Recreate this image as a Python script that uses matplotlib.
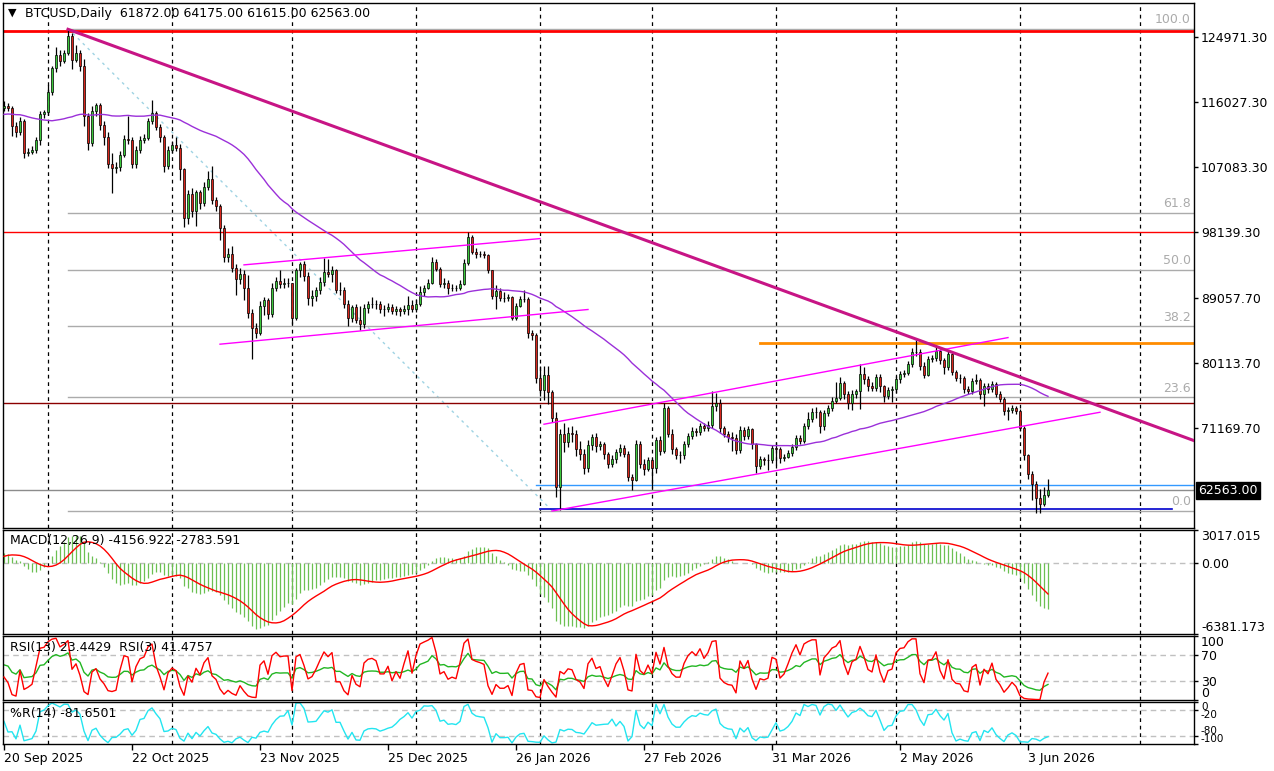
import numpy as np
import pandas as pd
import matplotlib
matplotlib.use("Agg")
import matplotlib.pyplot as plt
import matplotlib.dates as mdates
from matplotlib.transforms import blended_transform_factory

plt.rcParams['font.family'] = ['DejaVu Sans']

W, H = 1274, 771

# ---- data (prices in thousands of USD) ----
start_date = "2025-09-20"

# closes before the first visible bar (1 Aug .. 19 Sep 2025), only used to warm up the indicators
prior_closes_k = [
    113.3, 112.5, 114.2, 115.0, 114.1, 115.0, 117.5, 116.7, 116.5, 119.3,
    118.7, 120.2, 123.3, 118.4, 117.4, 117.5, 117.4, 116.2, 112.9, 114.3,
    112.5, 116.9, 115.4, 113.5, 110.1, 111.8, 111.2, 112.6, 108.4, 108.8,
    108.2, 109.2, 111.2, 111.7, 110.7, 110.7, 110.2, 111.1, 112.0, 111.5,
    113.9, 115.5, 116.1, 115.9, 115.4, 115.4, 116.8, 116.5, 117.1, 115.7]

opens_k = [
    115.3, 115.6, 115.2, 112.8, 111.9, 113.5, 109.0, 109.2, 109.4, 110.8,
    114.4, 114.7, 117.5, 120.7, 122.5, 121.8, 122.8, 125.2, 121.9, 122.8,
    121.1, 114.2, 110.4, 114.9, 115.7, 112.9, 111.2, 107.6, 107.0, 107.1,
    108.8, 111.0, 110.9, 107.6, 109.5, 110.8, 111.1, 113.4, 114.5, 112.7,
    111.2, 107.3, 109.4, 110.1, 109.8, 106.8, 100.1, 103.4, 101.1, 103.7,
    102.2, 104.4, 105.5, 102.6, 101.8, 98.7, 94.7, 95.1, 93.2, 91.7,
    92.4, 90.5, 87.0, 84.9, 84.3, 88.0, 88.8, 86.9, 90.4, 91.4,
    91.0, 91.1, 91.1, 86.3, 92.9, 93.8, 92.1, 89.1, 89.4, 90.2,
    91.3, 92.7, 92.4, 92.9, 90.2, 90.2, 88.3, 86.3, 87.8, 86.1,
    85.5, 87.7, 88.2, 88.3, 88.2, 87.6, 87.6, 87.8, 87.3, 87.5,
    87.3, 87.6, 88.1, 87.5, 88.3, 89.9, 90.5, 91.2, 94.0, 93.1,
    91.0, 91.2, 90.4, 90.5, 90.4, 91.0, 93.9, 97.5, 95.4, 95.2,
    95.1, 95.0, 92.9, 89.3, 90.1, 89.1, 89.1, 89.2, 86.3, 88.0,
    88.9, 89.0, 84.3, 84.0, 78.1, 76.4, 78.5, 76.1, 72.5, 63.0,
    70.3, 69.2, 70.5, 70.3, 68.2, 67.6, 65.7, 68.8, 69.9, 68.7,
    68.9, 67.6, 66.2, 66.9, 67.8, 68.4, 67.6, 64.4, 64.0, 68.9,
    66.2, 65.5, 66.7, 65.6, 69.5, 68.0, 73.9, 70.3, 68.3, 67.4,
    67.4, 68.9, 70.1, 70.8, 70.6, 71.5, 71.1, 71.6, 74.2, 74.6,
    71.2, 70.3, 69.9, 69.8, 68.1, 70.9, 70.1, 71.0, 68.9, 65.9,
    66.9, 66.7, 66.8, 68.4, 68.3, 67.0, 67.2, 67.7, 68.5, 69.8,
    69.4, 71.4, 72.4, 73.4, 73.4, 71.4, 73.2, 73.9, 74.9, 75.3,
    77.4, 75.8, 74.6, 75.9, 76.2, 78.6, 77.9, 76.9, 76.7, 78.2,
    76.9, 75.6, 76.4, 76.5, 77.9, 78.6, 78.7, 80.0, 81.7, 81.7,
    79.7, 78.5, 80.7, 80.8, 81.8, 80.5, 79.6, 81.3, 78.9, 78.1,
    78.0, 76.6, 76.3, 77.6, 77.8, 75.8, 76.9, 76.5, 77.2, 75.9,
    75.2, 73.5, 73.7, 73.9, 73.5, 71.2, 67.4, 64.8, 63.4, 61.5,
    60.7, 61.872]

highs_k = [
    116.2, 116.0, 115.5, 113.3, 114.0, 113.8, 109.8, 110.0, 111.2, 114.8,
    115.0, 118.4, 121.0, 123.6, 123.2, 123.3, 126.2, 125.6, 123.9, 123.2,
    122.0, 114.5, 115.5, 116.0, 116.0, 113.4, 112.0, 109.0, 107.8, 109.3,
    111.6, 114.1, 111.3, 110.0, 111.4, 111.7, 113.9, 116.3, 114.8, 113.0,
    111.5, 110.0, 110.7, 111.2, 110.3, 107.0, 104.0, 104.2, 104.0, 104.0,
    105.0, 106.6, 107.3, 103.0, 102.0, 99.2, 96.0, 96.3, 93.8, 93.2,
    93.0, 92.3, 87.6, 85.6, 88.6, 89.2, 89.1, 91.2, 92.0, 93.0,
    91.8, 91.8, 91.2, 93.2, 94.1, 94.2, 92.6, 90.2, 90.6, 91.9,
    94.6, 94.4, 93.5, 93.1, 91.3, 90.6, 88.8, 88.1, 88.3, 88.0,
    88.2, 88.6, 89.2, 88.8, 88.6, 88.1, 88.4, 88.2, 88.0, 87.9,
    88.1, 89.3, 88.8, 88.9, 90.7, 90.9, 91.7, 94.7, 94.4, 93.4,
    91.8, 91.6, 91.0, 90.9, 91.5, 94.4, 98.1, 97.8, 95.9, 95.6,
    95.6, 95.2, 93.0, 90.9, 90.5, 89.9, 89.6, 89.4, 88.4, 89.3,
    90.2, 89.2, 84.6, 84.3, 79.7, 79.7, 79.7, 76.4, 73.3, 71.0,
    71.8, 71.3, 71.5, 70.9, 69.3, 68.2, 69.5, 70.4, 70.5, 69.4,
    69.2, 67.9, 67.4, 68.2, 68.9, 68.8, 68.0, 64.8, 69.5, 69.3,
    66.9, 67.2, 67.0, 69.9, 70.1, 74.6, 74.2, 71.0, 68.6, 68.0,
    69.3, 70.5, 71.3, 71.1, 71.9, 71.8, 72.1, 76.3, 76.0, 75.1,
    71.5, 70.8, 70.6, 70.3, 71.4, 71.3, 71.5, 71.2, 69.1, 67.3,
    67.2, 67.6, 68.8, 69.2, 68.6, 67.6, 68.1, 68.9, 70.2, 70.2,
    71.8, 73.3, 73.9, 74.1, 73.7, 73.7, 74.3, 75.5, 77.5, 78.2,
    77.7, 76.2, 76.4, 76.6, 80.0, 79.6, 78.3, 77.5, 78.6, 78.6,
    77.1, 76.8, 76.9, 78.3, 79.0, 79.1, 80.4, 82.2, 83.3, 82.0,
    80.3, 81.1, 81.2, 82.6, 82.0, 80.8, 81.8, 81.6, 79.2, 78.6,
    78.3, 77.0, 78.0, 78.6, 78.1, 77.3, 77.4, 77.6, 77.5, 76.2,
    75.5, 74.1, 74.3, 74.2, 73.8, 71.5, 67.6, 65.3, 63.8, 62.8,
    63.0, 64.175]

lows_k = [
    114.9, 114.8, 111.4, 111.3, 111.6, 108.4, 108.6, 108.9, 109.0, 110.2,
    113.9, 114.3, 117.0, 120.2, 121.0, 121.5, 122.6, 120.6, 121.6, 120.4,
    112.8, 109.4, 110.0, 114.1, 112.2, 110.2, 107.0, 103.5, 106.3, 106.6,
    108.5, 110.3, 107.0, 107.0, 109.1, 110.4, 110.9, 113.0, 112.2, 110.6,
    106.4, 106.8, 109.0, 109.3, 105.3, 98.9, 99.3, 100.3, 99.0, 101.3,
    101.7, 104.0, 102.0, 101.0, 97.0, 94.0, 94.0, 92.7, 89.5, 91.0,
    88.8, 86.3, 80.6, 83.5, 84.0, 86.8, 86.2, 86.5, 90.0, 90.5,
    90.4, 90.6, 85.5, 86.0, 92.0, 91.4, 88.1, 88.0, 88.6, 89.6,
    90.7, 91.9, 91.3, 89.8, 89.5, 87.7, 85.2, 85.7, 85.6, 84.6,
    84.9, 87.0, 87.7, 87.6, 87.0, 86.6, 87.1, 86.9, 86.8, 86.6,
    86.9, 86.7, 87.2, 87.2, 88.0, 89.4, 90.3, 91.0, 92.8, 90.6,
    90.5, 89.6, 90.1, 90.0, 90.2, 90.8, 93.6, 95.1, 94.6, 94.7,
    94.6, 92.5, 88.9, 87.5, 88.7, 88.5, 88.6, 86.0, 86.1, 87.8,
    88.5, 83.5, 83.3, 77.3, 75.6, 75.0, 74.5, 72.0, 61.7, 59.8,
    67.9, 68.6, 69.2, 67.3, 66.8, 64.8, 65.1, 68.1, 67.8, 68.1,
    66.9, 65.7, 65.8, 66.4, 67.3, 67.2, 63.9, 62.6, 63.8, 65.7,
    64.7, 65.2, 62.9, 65.0, 67.5, 67.7, 69.9, 67.6, 66.9, 66.3,
    66.9, 68.5, 69.6, 70.1, 70.2, 70.7, 70.8, 71.2, 73.5, 70.5,
    69.9, 69.2, 68.0, 67.6, 67.7, 69.5, 69.7, 68.3, 65.0, 65.5,
    66.1, 65.4, 66.4, 66.0, 66.4, 66.6, 67.0, 67.3, 68.1, 69.0,
    69.1, 71.0, 72.0, 72.5, 70.5, 70.9, 72.8, 73.5, 74.6, 75.0,
    75.2, 73.8, 73.7, 75.3, 73.8, 77.2, 76.2, 76.2, 76.3, 76.1,
    74.7, 75.2, 74.7, 76.0, 77.3, 78.2, 78.4, 79.6, 81.1, 79.2,
    78.1, 78.3, 80.3, 80.4, 80.0, 78.6, 79.2, 78.4, 77.7, 77.3,
    76.0, 75.8, 75.9, 77.2, 75.2, 74.2, 76.0, 76.1, 75.4, 74.7,
    73.0, 72.2, 73.2, 73.1, 70.8, 66.8, 64.2, 61.2, 59.4, 59.5,
    60.4, 61.615]

closes_k = [
    115.6, 115.2, 112.8, 111.9, 113.5, 109.0, 109.2, 109.4, 110.8, 114.4,
    114.7, 117.5, 120.7, 122.5, 121.8, 122.8, 125.2, 121.9, 122.8, 121.1,
    114.2, 110.4, 114.9, 115.7, 112.9, 111.2, 107.6, 107.0, 107.1, 108.8,
    111.0, 110.9, 107.6, 109.5, 110.8, 111.1, 113.4, 114.5, 112.7, 111.2,
    107.3, 109.4, 110.1, 109.8, 106.8, 100.1, 103.4, 101.1, 103.7, 102.2,
    104.4, 105.5, 102.6, 101.8, 98.7, 94.7, 95.1, 93.2, 91.7, 92.4,
    90.5, 87.0, 84.9, 84.3, 88.0, 88.8, 86.9, 90.4, 91.4, 91.0,
    91.1, 91.1, 86.3, 92.9, 93.8, 92.1, 89.1, 89.4, 90.2, 91.3,
    92.7, 92.4, 92.9, 90.2, 90.2, 88.3, 86.3, 87.8, 86.1, 85.5,
    87.7, 88.2, 88.3, 88.2, 87.6, 87.6, 87.8, 87.3, 87.5, 87.3,
    87.6, 88.1, 87.5, 88.3, 89.9, 90.5, 91.2, 94.0, 93.1, 91.0,
    91.2, 90.4, 90.5, 90.4, 91.0, 93.9, 97.5, 95.4, 95.2, 95.1,
    95.0, 92.9, 89.3, 90.1, 89.1, 89.1, 89.2, 86.3, 88.0, 88.9,
    89.0, 84.3, 84.0, 78.1, 76.4, 78.5, 76.1, 72.5, 63.0, 70.3,
    69.2, 70.5, 70.3, 68.2, 67.6, 65.7, 68.8, 69.9, 68.7, 68.9,
    67.6, 66.2, 66.9, 67.8, 68.4, 67.6, 64.4, 64.0, 68.9, 66.2,
    65.5, 66.7, 65.6, 69.5, 68.0, 73.9, 70.3, 68.3, 67.4, 67.4,
    68.9, 70.1, 70.8, 70.6, 71.5, 71.1, 71.6, 74.2, 74.6, 71.2,
    70.3, 69.9, 69.8, 68.1, 70.9, 70.1, 71.0, 68.9, 65.9, 66.9,
    66.7, 66.8, 68.4, 68.3, 67.0, 67.2, 67.7, 68.5, 69.8, 69.4,
    71.4, 72.4, 73.4, 73.4, 71.4, 73.2, 73.9, 74.9, 75.3, 77.4,
    75.8, 74.6, 75.9, 76.2, 78.6, 77.9, 76.9, 76.7, 78.2, 76.9,
    75.6, 76.4, 76.5, 77.9, 78.6, 78.7, 80.0, 81.7, 81.7, 79.7,
    78.5, 80.7, 80.8, 81.8, 80.5, 79.6, 81.3, 78.9, 78.1, 78.0,
    76.6, 76.3, 77.6, 77.8, 75.8, 76.9, 76.5, 77.2, 75.9, 75.2,
    73.5, 73.7, 73.9, 73.5, 71.2, 67.4, 64.8, 63.4, 61.5, 60.7,
    61.872, 62.563]

price_ticks = [124971.30, 116027.30, 107083.30, 98139.30, 89057.70, 80113.70, 71169.70]
date_labels = ["20 Sep 2025", "22 Oct 2025", "23 Nov 2025", "25 Dec 2025", "26 Jan 2026",
               "27 Feb 2026", "31 Mar 2026", "2 May 2026", "3 Jun 2026"]
header_text = "BTCUSD,Daily  61872.00 64175.00 61615.00 62563.00"
macd_text = "MACD(12,26,9) -4156.922 -2783.591"
rsi_text = "RSI(13) 23.4429  RSI(3) 41.4757"
wpr_text = "%R(14) -81.6501"
macd_range = [-6381.173, 3017.015]
macd_tick_labels = ["3017.015", "0.00", "-6381.173"]
wpr_ticks = [0, -20, -80, -100]

# hand drawn objects on the chart: (date, price)
fib_dates = ["2025-10-06", "2026-02-04"]
fib_prices = [126210, 59790]
fib_levels = [100.0, 61.8, 50.0, 38.2, 23.6, 0.0]
trend_dates = ["2025-10-06", "2026-05-18"]
trend_prices = [126100, 81000]
chan1_up_dates, chan1_up_prices = ["2025-11-19", "2026-02-01"], [93640, 97260]
chan1_lo_dates, chan1_lo_prices = ["2025-11-13", "2026-02-13"], [82710, 87490]
chan2_up_dates, chan2_up_prices = ["2026-02-02", "2026-05-29"], [71680, 83620]
chan2_lo_dates, chan2_lo_prices = ["2026-02-04", "2026-06-21"], [59720, 73330]
red_levels = [125900, 98100]
orange_level, orange_from = 82915, "2026-03-28"
maroon_level = 74560
blue_level, blue_from = 63260, "2026-01-31"
navy_level, navy_dates = 59960, ["2026-02-01", "2026-07-09"]

# ---- indicators ----
opens = np.array(opens_k) * 1000
highs = np.array(highs_k) * 1000
lows = np.array(lows_k) * 1000
closes = np.array(closes_k) * 1000
n_prior = len(prior_closes_k)
all_close = pd.Series(np.r_[np.array(prior_closes_k) * 1000, closes])

sma50 = all_close.rolling(50).mean().to_numpy()[n_prior:]
macd_all = all_close.ewm(span=12, adjust=False).mean() - all_close.ewm(span=26, adjust=False).mean()
signal = macd_all.rolling(9).mean().to_numpy()[n_prior:]
macd = macd_all.to_numpy()[n_prior:]


def rsi(s, n):
    d = s.diff()
    up = d.clip(lower=0).ewm(alpha=1 / n, adjust=False).mean()
    dn = (-d.clip(upper=0)).ewm(alpha=1 / n, adjust=False).mean()
    return (100 - 100 / (1 + up / dn)).to_numpy()[n_prior:]


rsi13 = rsi(all_close, 13)
rsi3 = rsi(all_close, 3)
hh = pd.Series(highs).rolling(14, min_periods=1).max().to_numpy()
ll = pd.Series(lows).rolling(14, min_periods=1).min().to_numpy()
wpr = -100 * (hh - closes) / (hh - ll)

dates = pd.date_range(start_date, periods=len(closes), freq="D")
x = mdates.date2num(dates)
x0 = x[0]


def dn(s):
    return mdates.date2num(pd.Timestamp(s))


# layout in pixels
def rect(l, t, r, b):
    return [l / W, 1 - b / H, (r - l) / W, (b - t) / H]


fig = plt.figure(figsize=(W / 100, H / 100), dpi=100)
ax = fig.add_axes(rect(3, 3, 1194, 528))
axm = fig.add_axes(rect(3, 530, 1194, 634))
axr = fig.add_axes(rect(3, 636, 1194, 700))
axw = fig.add_axes(rect(3, 702, 1194, 744))
xl = (x0 - 0.25, x0 + 297.5)
month_lines = mdates.date2num(pd.date_range("2025-10-01", "2026-07-01", freq="MS"))

for a in (ax, axm, axr, axw):
    a.set_xlim(*xl)
    for sp in a.spines.values():
        sp.set_linewidth(1)
        sp.set_color("black")
    for m in month_lines:
        a.axvline(m, color="black", lw=0.9, ls=(0, (3, 3)), zorder=1)
    a.yaxis.tick_right()
    a.tick_params(axis="y", length=3, width=1, pad=2, labelsize=9, colors="black")
    a.tick_params(axis="x", bottom=False, labelbottom=False)

# main price panel
ax.set_ylim(57380, 129725)
xr = xl[1]

# fib retracement
fx = [dn(d) for d in fib_dates]
ax.plot(fx, fib_prices, color="#9fd3e3", lw=1, ls=(0, (2, 3)), zorder=2)
trans = blended_transform_factory(ax.transAxes, ax.transData)
for lv in fib_levels:
    p = fib_prices[1] + (fib_prices[0] - fib_prices[1]) * lv / 100
    ax.plot([fx[0], xr], [p, p], color="#ababab", lw=1, zorder=2)
    ax.text(0.9975, p + 300, f"{lv:.1f}", transform=trans, ha="right", va="bottom",
            color="#ababab", fontsize=9)

for p in red_levels:
    ax.axhline(p, color="#ff0000", lw=2 if p == red_levels[0] else 1, zorder=2)
ax.axhline(maroon_level, color="#8b0000", lw=1, zorder=2)
ax.axhline(closes[-1], color="#8c8c8c", lw=1, zorder=2)
ax.plot([dn(orange_from), xr], [orange_level] * 2, color="#ff8c00", lw=2, zorder=2)
ax.plot([dn(blue_from), xr], [blue_level] * 2, color="#3399ff", lw=1, zorder=2)
ax.plot([dn(d) for d in navy_dates], [navy_level] * 2, color="#0000cd", lw=1.2, zorder=2)

# candles
up = closes >= opens
ax.vlines(x, lows, highs, color="black", lw=0.9, zorder=3)
ax.bar(x, np.abs(closes - opens), bottom=np.minimum(opens, closes), width=0.72,
       color=np.where(up, "#3cc83c", "#d8261c"), edgecolor="black", linewidth=0.5, zorder=4)

ax.plot(x, sma50, color="#9b30d9", lw=1, zorder=5)

for dd, pp in [(chan1_up_dates, chan1_up_prices), (chan1_lo_dates, chan1_lo_prices),
               (chan2_up_dates, chan2_up_prices), (chan2_lo_dates, chan2_lo_prices)]:
    ax.plot([dn(d) for d in dd], pp, color="#ff00ff", lw=1, zorder=5)

tx = [dn(d) for d in trend_dates]
slope = (trend_prices[1] - trend_prices[0]) / (tx[1] - tx[0])
ax.plot([tx[0], xr], [trend_prices[0], trend_prices[0] + slope * (xr - tx[0])],
        color="#c71585", lw=2.2, zorder=6)

ax.set_yticks(price_ticks)
ax.set_yticklabels([f"{p:.2f}" for p in price_ticks])
ax.text(1.0035, closes[-1], f"{closes[-1]:.2f}", transform=trans, ha="left", va="center",
        color="white", fontsize=9, clip_on=False,
        bbox=dict(boxstyle="square,pad=0.15", fc="black", ec="black"))

fig.text(8 / W, 1 - 13 / H, "\u25bc", fontsize=8, va="center", ha="left")
fig.text(25 / W, 1 - 13 / H, header_text, fontsize=9, va="center", ha="left")

# MACD
axm.set_ylim(*macd_range)
axm.axhline(0, color="#c0c0c0", lw=1, ls=(0, (4, 3)), zorder=1)
axm.vlines(x, 0, macd, color="#6cc052", lw=0.9, zorder=2)
axm.plot(x, signal, color="#ff0000", lw=1, zorder=3)
axm.set_yticks([macd_range[1], 0, macd_range[0]])
labs = axm.set_yticklabels(macd_tick_labels)
labs[0].set_va("top")
labs[2].set_va("bottom")
axm.text(7 / 1191, 0.9, macd_text, transform=axm.transAxes, fontsize=9, va="center")

# RSI
axr.set_ylim(0, 100)
for lv in (70, 30):
    axr.axhline(lv, color="#c0c0c0", lw=1, ls=(0, (4, 3)), zorder=1)
axr.plot(x, rsi13, color="#22b622", lw=1, zorder=2)
axr.plot(x, rsi3, color="#ff0000", lw=1, zorder=3)
axr.set_yticks([100, 70, 30, 0])
labs = axr.set_yticklabels(["100", "70", "30", "0"])
labs[0].set_va("top")
labs[3].set_va("bottom")
axr.text(7 / 1191, 0.82, rsi_text, transform=axr.transAxes, fontsize=9, va="center")

# Williams %R
axw.set_ylim(-100, 0)
for lv in (-20, -80):
    axw.axhline(lv, color="#c0c0c0", lw=1, ls=(0, (4, 3)), zorder=1)
axw.plot(x, wpr, color="#22e5f0", lw=1, zorder=2)
axw.set_yticks(wpr_ticks)
labs = axw.set_yticklabels([str(v) for v in wpr_ticks], fontsize=7.5)
labs[0].set_va("top")
labs[1].set_va("top")
labs[2].set_va("bottom")
labs[3].set_va("bottom")
axw.text(7 / 1191, 0.73, wpr_text, transform=axw.transAxes, fontsize=9, va="center")

axw.tick_params(axis="x", bottom=True, labelbottom=True, length=4, width=1, pad=2, labelsize=9)
axw.set_xticks([dn(s) for s in date_labels])
labs = axw.set_xticklabels(date_labels)
for t in labs:
    t.set_ha("left")

fig.savefig("out.png", dpi=100)
